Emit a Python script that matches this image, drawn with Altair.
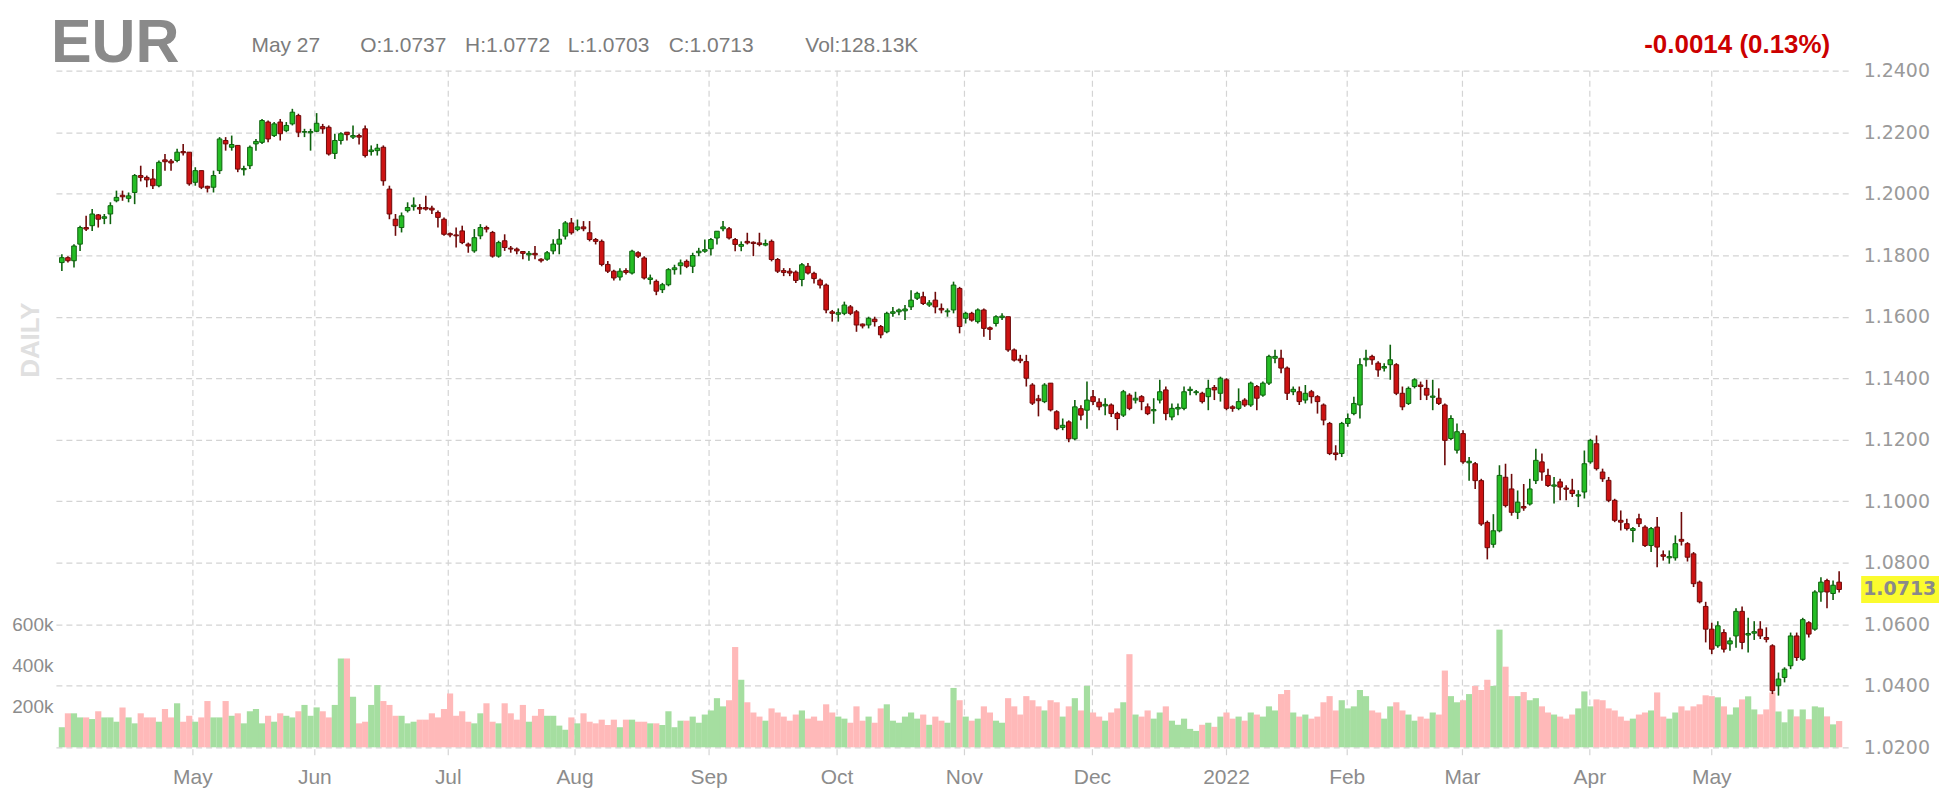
import altair as alt
import pandas as pd

# ---- data (daily EUR candles) ----
opens = [1.1776,1.1792,1.1782,1.1836,1.1890,1.1896,1.1931,1.1920,1.1934,1.1977,
1.1995,1.1985,1.2004,1.2059,1.2053,1.2048,1.2026,1.2110,1.2106,1.2108,
1.2137,1.2135,1.2037,1.2075,1.2024,1.2021,1.2075,1.2173,1.2151,1.2157,
1.2078,1.2091,1.2162,1.2167,1.2233,1.2189,1.2233,1.2205,1.2227,1.2254,
1.2200,1.2198,1.2203,1.2218,1.2216,1.2131,1.2173,1.2200,1.2184,1.2189,
1.2211,1.2137,1.2140,1.2151,1.2015,1.1917,1.1890,1.1945,1.1958,1.1955,
1.1955,1.1953,1.1939,1.1917,1.1870,1.1866,1.1879,1.1836,1.1814,1.1863,
1.1890,1.1874,1.1797,1.1847,1.1823,1.1820,1.1812,1.1801,1.1806,1.1787,
1.1787,1.1814,1.1836,1.1862,1.1905,1.1884,1.1892,1.1873,1.1851,1.1845,
1.1770,1.1748,1.1729,1.1750,1.1742,1.1808,1.1791,1.1721,1.1715,1.1688,
1.1704,1.1753,1.1766,1.1780,1.1764,1.1808,1.1813,1.1821,1.1856,1.1886,
1.1886,1.1851,1.1829,1.1845,1.1842,1.1840,1.1833,1.1845,1.1786,1.1750,
1.1748,1.1745,1.1721,1.1764,1.1741,1.1719,1.1703,1.1616,1.1608,1.1611,
1.1632,1.1616,1.1576,1.1573,1.1592,1.1568,1.1551,1.1611,1.1616,1.1619,
1.1632,1.1660,1.1665,1.1638,1.1654,1.1627,1.1616,1.1622,1.1692,1.1595,
1.1611,1.1584,1.1622,1.1564,1.1578,1.1597,1.1600,1.1492,1.1462,1.1454,
1.1378,1.1333,1.1324,1.1384,1.1291,1.1240,1.1258,1.1203,1.1301,1.1296,
1.1340,1.1322,1.1310,1.1313,1.1285,1.1280,1.1345,1.1329,1.1340,1.1307,
1.1294,1.1329,1.1362,1.1274,1.1300,1.1302,1.1360,1.1353,1.1351,1.1340,
1.1370,1.1351,1.1395,1.1307,1.1302,1.1329,1.1313,1.1373,1.1345,1.1384,
1.1465,1.1465,1.1433,1.1356,1.1356,1.1329,1.1356,1.1340,1.1313,1.1253,
1.1157,1.1155,1.1253,1.1285,1.1313,1.1460,1.1471,1.1449,1.1433,1.1444,
1.1444,1.1351,1.1318,1.1373,1.1378,1.1367,1.1338,1.1335,1.1313,1.1204,
1.1166,1.1220,1.1125,1.1122,1.1067,1.0931,1.0860,1.0904,1.1078,1.1040,
1.0964,1.0983,1.0991,1.1067,1.1128,1.1084,1.1049,1.1063,1.1043,1.1036,
1.1017,1.1030,1.1128,1.1187,1.1095,1.1068,1.1003,1.0938,1.0927,1.0905,
1.0943,1.0916,1.0856,1.0916,1.0826,1.0816,1.0816,1.0876,1.0862,1.0829,
1.0737,1.0658,1.0584,1.0530,1.0573,1.0536,1.0562,1.0642,1.0565,1.0571,
1.0584,1.0557,1.0530,1.0400,1.0427,1.0465,1.0562,1.0486,1.0605,1.0584,
1.0705,1.0742,1.0700,1.0737]
highs = [1.1803,1.1797,1.1836,1.1896,1.1928,1.1950,1.1934,1.1934,1.1972,1.2010,
1.2010,1.2004,1.2064,1.2091,1.2059,1.2080,1.2108,1.2129,1.2113,1.2146,
1.2162,1.2135,1.2086,1.2075,1.2026,1.2075,1.2184,1.2184,1.2189,1.2157,
1.2091,1.2157,1.2178,1.2243,1.2238,1.2233,1.2243,1.2233,1.2276,1.2260,
1.2211,1.2211,1.2262,1.2227,1.2222,1.2195,1.2200,1.2200,1.2222,1.2195,
1.2222,1.2157,1.2162,1.2157,1.2026,1.1934,1.1939,1.1972,1.1988,1.1966,
1.1993,1.1961,1.1945,1.1923,1.1874,1.1890,1.1896,1.1841,1.1885,1.1901,
1.1896,1.1879,1.1847,1.1868,1.1830,1.1825,1.1814,1.1814,1.1830,1.1790,
1.1814,1.1852,1.1885,1.1911,1.1921,1.1916,1.1911,1.1911,1.1856,1.1851,
1.1781,1.1753,1.1758,1.1758,1.1818,1.1813,1.1797,1.1737,1.1721,1.1710,
1.1758,1.1769,1.1786,1.1786,1.1808,1.1824,1.1851,1.1856,1.1878,1.1911,
1.1892,1.1856,1.1845,1.1873,1.1845,1.1873,1.1851,1.1851,1.1791,1.1758,
1.1758,1.1750,1.1775,1.1775,1.1746,1.1724,1.1708,1.1622,1.1627,1.1649,
1.1638,1.1622,1.1578,1.1600,1.1600,1.1573,1.1616,1.1632,1.1627,1.1638,
1.1686,1.1681,1.1681,1.1654,1.1681,1.1643,1.1627,1.1714,1.1697,1.1616,
1.1616,1.1627,1.1627,1.1568,1.1605,1.1611,1.1600,1.1497,1.1476,1.1476,
1.1384,1.1346,1.1384,1.1384,1.1296,1.1269,1.1263,1.1329,1.1312,1.1389,
1.1362,1.1335,1.1335,1.1318,1.1291,1.1362,1.1351,1.1356,1.1345,1.1318,
1.1335,1.1395,1.1373,1.1318,1.1318,1.1373,1.1373,1.1362,1.1356,1.1395,
1.1378,1.1405,1.1400,1.1312,1.1367,1.1335,1.1389,1.1378,1.1389,1.1476,
1.1493,1.1493,1.1438,1.1373,1.1373,1.1378,1.1362,1.1345,1.1318,1.1258,
1.1182,1.1258,1.1285,1.1340,1.1465,1.1493,1.1476,1.1455,1.1449,1.1509,
1.1449,1.1373,1.1373,1.1400,1.1389,1.1395,1.1395,1.1367,1.1318,1.1280,
1.1253,1.1231,1.1144,1.1128,1.1073,1.0937,1.0958,1.1117,1.1122,1.1089,
1.1035,1.1056,1.1073,1.1171,1.1155,1.1106,1.1079,1.1073,1.1052,1.1073,
1.1036,1.1165,1.1203,1.1214,1.1106,1.1079,1.1008,1.0970,1.0943,1.0916,
1.0959,1.0922,1.0916,1.0949,1.0840,1.0840,1.0889,1.0965,1.0867,1.0835,
1.0742,1.0673,1.0605,1.0610,1.0584,1.0557,1.0652,1.0658,1.0621,1.0610,
1.0610,1.0590,1.0535,1.0443,1.0460,1.0573,1.0573,1.0621,1.0610,1.0711,
1.0753,1.0748,1.0742,1.0772]
lows = [1.1749,1.1776,1.1760,1.1814,1.1879,1.1879,1.1890,1.1901,1.1901,1.1972,
1.1977,1.1972,1.1966,1.2040,1.2021,1.2015,1.2021,1.2075,1.2075,1.2102,
1.2124,1.2026,1.2026,1.2015,1.2004,1.2004,1.2064,1.2140,1.2140,1.2070,
1.2059,1.2080,1.2140,1.2162,1.2167,1.2184,1.2173,1.2200,1.2222,1.2184,
1.2184,1.2140,1.2200,1.2195,1.2124,1.2113,1.2160,1.2173,1.2178,1.2160,
1.2118,1.2124,1.2124,1.2026,1.1917,1.1863,1.1874,1.1939,1.1945,1.1934,
1.1945,1.1934,1.1890,1.1863,1.1858,1.1825,1.1836,1.1808,1.1808,1.1852,
1.1874,1.1792,1.1792,1.1814,1.1808,1.1803,1.1787,1.1782,1.1787,1.1776,
1.1782,1.1803,1.1803,1.1851,1.1867,1.1878,1.1878,1.1845,1.1835,1.1764,
1.1742,1.1718,1.1718,1.1737,1.1737,1.1791,1.1721,1.1705,1.1670,1.1677,
1.1699,1.1737,1.1737,1.1758,1.1742,1.1797,1.1808,1.1799,1.1835,1.1878,
1.1851,1.1813,1.1813,1.1835,1.1797,1.1829,1.1829,1.1780,1.1742,1.1732,
1.1732,1.1710,1.1699,1.1737,1.1708,1.1692,1.1611,1.1584,1.1584,1.1605,
1.1605,1.1551,1.1562,1.1562,1.1568,1.1530,1.1546,1.1600,1.1605,1.1589,
1.1622,1.1654,1.1638,1.1632,1.1611,1.1611,1.1600,1.1611,1.1546,1.1578,
1.1584,1.1578,1.1535,1.1524,1.1568,1.1589,1.1486,1.1454,1.1449,1.1373,
1.1313,1.1276,1.1319,1.1292,1.1231,1.1231,1.1192,1.1198,1.1263,1.1236,
1.1313,1.1296,1.1280,1.1274,1.1231,1.1274,1.1296,1.1318,1.1296,1.1280,
1.1252,1.1318,1.1263,1.1263,1.1280,1.1296,1.1345,1.1345,1.1318,1.1296,
1.1329,1.1324,1.1296,1.1291,1.1296,1.1307,1.1307,1.1296,1.1340,1.1378,
1.1449,1.1416,1.1329,1.1345,1.1313,1.1318,1.1318,1.1285,1.1247,1.1150,
1.1133,1.1144,1.1242,1.1280,1.1269,1.1438,1.1444,1.1405,1.1422,1.1395,
1.1345,1.1296,1.1313,1.1367,1.1329,1.1329,1.1296,1.1313,1.1117,1.1198,
1.1155,1.1122,1.1067,1.1040,1.0920,1.0811,1.0849,1.0899,1.0980,1.0953,
1.0942,1.0969,1.0986,1.1056,1.1067,1.1046,1.0993,1.1003,1.1003,1.1014,
1.0981,1.1009,1.1122,1.1100,1.1063,1.0997,1.0932,1.0905,1.0905,1.0867,
1.0916,1.0851,1.0835,1.0785,1.0807,1.0797,1.0807,1.0856,1.0804,1.0721,
1.0668,1.0541,1.0503,1.0524,1.0508,1.0514,1.0524,1.0519,1.0508,1.0549,
1.0552,1.0541,1.0373,1.0368,1.0411,1.0454,1.0481,1.0481,1.0557,1.0579,
1.0673,1.0652,1.0679,1.0703]
closes = [1.1792,1.1782,1.1830,1.1890,1.1885,1.1934,1.1917,1.1925,1.1961,1.1988,
1.1990,1.1993,1.2059,1.2053,1.2045,1.2026,1.2102,1.2104,1.2100,1.2135,
1.2133,1.2032,1.2075,1.2021,1.2018,1.2059,1.2178,1.2162,1.2160,1.2080,
1.2082,1.2151,1.2170,1.2238,1.2178,1.2227,1.2195,1.2222,1.2265,1.2200,
1.2202,1.2202,1.2229,1.2211,1.2129,1.2173,1.2195,1.2192,1.2189,1.2184,
1.2124,1.2142,1.2148,1.2042,1.1934,1.1896,1.1928,1.1955,1.1963,1.1950,
1.1950,1.1947,1.1923,1.1868,1.1866,1.1863,1.1841,1.1830,1.1857,1.1890,
1.1885,1.1797,1.1841,1.1825,1.1820,1.1814,1.1806,1.1806,1.1801,1.1782,
1.1808,1.1836,1.1852,1.1905,1.1873,1.1892,1.1886,1.1851,1.1845,1.1770,
1.1748,1.1726,1.1748,1.1744,1.1813,1.1797,1.1726,1.1726,1.1683,1.1704,
1.1753,1.1759,1.1775,1.1764,1.1799,1.1813,1.1818,1.1851,1.1878,1.1892,
1.1856,1.1835,1.1835,1.1840,1.1838,1.1835,1.1838,1.1786,1.1748,1.1744,
1.1742,1.1718,1.1769,1.1742,1.1724,1.1703,1.1622,1.1611,1.1613,1.1638,
1.1611,1.1573,1.1570,1.1595,1.1584,1.1541,1.1611,1.1616,1.1622,1.1625,
1.1654,1.1676,1.1643,1.1645,1.1632,1.1622,1.1619,1.1703,1.1568,1.1611,
1.1589,1.1622,1.1562,1.1559,1.1600,1.1602,1.1492,1.1459,1.1457,1.1400,
1.1319,1.1327,1.1378,1.1297,1.1236,1.1247,1.1203,1.1307,1.1280,1.1329,
1.1324,1.1307,1.1315,1.1285,1.1269,1.1356,1.1302,1.1335,1.1324,1.1285,
1.1298,1.1356,1.1285,1.1302,1.1305,1.1356,1.1364,1.1356,1.1324,1.1367,
1.1362,1.1400,1.1302,1.1302,1.1324,1.1313,1.1384,1.1335,1.1384,1.1471,
1.1471,1.1433,1.1351,1.1364,1.1324,1.1351,1.1340,1.1324,1.1264,1.1155,
1.1152,1.1253,1.1269,1.1318,1.1444,1.1465,1.1460,1.1427,1.1438,1.1460,
1.1351,1.1307,1.1367,1.1395,1.1373,1.1345,1.1342,1.1318,1.1198,1.1269,
1.1226,1.1128,1.1130,1.1067,1.0926,1.0849,1.0904,1.1084,1.0986,1.0964,
1.0997,1.0978,1.1040,1.1133,1.1095,1.1051,1.1053,1.1046,1.1039,1.1025,
1.1021,1.1122,1.1198,1.1106,1.1073,1.1003,1.0938,1.0932,1.0911,1.0911,
1.0927,1.0856,1.0911,1.0851,1.0821,1.0820,1.0862,1.0870,1.0818,1.0732,
1.0673,1.0584,1.0519,1.0595,1.0519,1.0546,1.0642,1.0541,1.0570,1.0576,
1.0562,1.0551,1.0384,1.0422,1.0454,1.0562,1.0492,1.0615,1.0568,1.0705,
1.0737,1.0705,1.0727,1.0713]

# daily volume, one per candle
volumes = [98000,166000,166000,146000,146000,138000,176000,146000,146000,125000,
195000,146000,117000,166000,146000,146000,125000,187000,146000,215000,
125000,154000,125000,146000,226000,146000,146000,226000,154000,166000,
117000,176000,187000,117000,154000,125000,166000,154000,146000,176000,
207000,154000,195000,176000,146000,207000,434000,434000,247000,117000,
125000,207000,304000,226000,207000,154000,154000,117000,125000,135000,
135000,166000,146000,187000,263000,154000,176000,125000,117000,166000,
215000,125000,117000,215000,166000,135000,207000,125000,154000,187000,
154000,154000,106000,86000,146000,117000,166000,125000,117000,135000,
109000,135000,98000,135000,135000,125000,125000,117000,117000,109000,
176000,98000,130000,130000,150000,120000,160000,180000,240000,200000,
230000,490000,330000,220000,170000,150000,130000,190000,170000,150000,
130000,160000,180000,140000,150000,130000,210000,170000,150000,140000,
120000,200000,130000,150000,120000,190000,210000,130000,120000,150000,
170000,140000,160000,110000,150000,130000,120000,290000,230000,150000,
130000,140000,200000,170000,130000,120000,240000,200000,160000,250000,
230000,200000,180000,230000,220000,150000,200000,240000,180000,300000,
170000,150000,130000,170000,190000,220000,455000,160000,150000,180000,
140000,170000,200000,130000,110000,140000,90000,80000,110000,120000,
100000,150000,170000,140000,150000,130000,170000,160000,150000,200000,
180000,260000,280000,170000,150000,160000,140000,150000,220000,250000,
180000,230000,190000,200000,280000,250000,180000,170000,140000,200000,
220000,180000,160000,130000,150000,140000,170000,160000,375000,250000,
220000,230000,260000,300000,280000,330000,300000,575000,394000,250000,
250000,270000,230000,240000,200000,170000,160000,150000,140000,160000,
190000,273000,200000,234000,230000,190000,180000,150000,130000,140000,
160000,170000,180000,268000,150000,140000,170000,200000,180000,200000,
210000,254000,250000,244000,200000,160000,195000,234000,249000,185000,
161000,185000,268000,175000,122000,185000,151000,185000,137000,200000,
195000,151000,112000,128130]

price_ticks = [1.02, 1.04, 1.06, 1.08, 1.10, 1.12, 1.14, 1.16, 1.18, 1.20, 1.22, 1.24]
volume_ticks = [200000, 400000, 600000]
month_labels = ["May", "Jun", "Jul", "Aug", "Sep", "Oct", "Nov", "Dec", "2022", "Feb", "Mar", "Apr", "May"]
month_pos = [21.6, 41.7, 63.7, 84.6, 106.7, 127.8, 148.8, 169.9, 192.0, 211.9, 230.9, 251.9, 272.0]

symbol = "EUR"
last_date = "May 27"

# ---- build tables ----
n = len(closes)
dirs = ["up" if c >= o else "down" for o, c in zip(opens, closes)]
df = pd.DataFrame({"i": list(range(n)), "open": opens, "high": highs, "low": lows,
                   "close": closes, "dir": dirs})
nv = min(len(volumes), n)
vdf = pd.DataFrame({"i": list(range(nv)), "vol": volumes[:nv], "dir": dirs[:nv]})
mdf = pd.DataFrame({"pos": month_pos, "label": month_labels})

chg = closes[-1] - closes[-2]
pct = abs(chg) / closes[-2] * 100
change_text = f"{chg:.4f} ({pct:.2f}%)"
vol_text = f"Vol:{volumes[-1] / 1000:.2f}K"
last_df = pd.DataFrame({"close": [closes[-1]], "label": [f"{closes[-1]:.4f}"]})
one = pd.DataFrame({"k": [0]})

W, H = 1796, 678
xscale = alt.Scale(domain=[-0.16, n - 1 + 0.67], nice=False, zero=False)
yscale = alt.Scale(domain=[1.02, 1.24], nice=False, zero=False)
vscale = alt.Scale(domain=[0, 3307000], nice=False, zero=True)

GRID = "#d4d4d4"
LABEL = "#8c8c8c"
SANS = "Liberation Sans"
EDGE = ["#0e620e", "#6e0909"]

vgrid = alt.Chart(mdf).mark_rule(strokeDash=[6, 4], color=GRID, strokeWidth=1.2).encode(
    x=alt.X("pos:Q", scale=xscale, axis=None),
    y=alt.value(0), y2=alt.value(H + 8))

mtext = alt.Chart(mdf).mark_text(fontSize=21, font=SANS, color=LABEL, baseline="middle").encode(
    x=alt.X("pos:Q", scale=xscale, axis=None),
    y=alt.value(H + 31), text="label:N")

vol = alt.Chart(vdf).mark_bar(size=6.2).encode(
    x=alt.X("i:Q", scale=xscale, axis=None),
    y=alt.Y("vol:Q", scale=vscale, axis=alt.Axis(
        orient="left", values=volume_ticks, labelExpr="datum.value / 1000 + 'k'", title=None,
        labelFont=SANS, labelFontSize=19, labelColor=LABEL, labelPadding=3,
        domain=False, ticks=False, grid=False)),
    color=alt.Color("dir:N", scale=alt.Scale(domain=["up", "down"], range=["#a5dea0", "#ffb9b9"]), legend=None))

wick = alt.Chart(df).mark_rule(strokeWidth=1.6).encode(
    x=alt.X("i:Q", scale=xscale, axis=None),
    y=alt.Y("low:Q", scale=yscale, axis=alt.Axis(
        orient="right", values=price_ticks, format=".4f", title=None,
        labelFont="DejaVu Sans", labelFontSize=19, labelColor="#9a9a9a", labelPadding=15,
        domain=False, ticks=False, grid=True, gridDash=[6, 4], gridColor=GRID, gridWidth=1.2)),
    y2="high:Q",
    stroke=alt.Stroke("dir:N", scale=alt.Scale(domain=["up", "down"], range=EDGE), legend=None))

body = alt.Chart(df).mark_bar(size=4.6, strokeWidth=0).encode(
    x=alt.X("i:Q", scale=xscale, axis=None),
    y=alt.Y("open:Q", scale=yscale, axis=None),
    y2="close:Q",
    fill=alt.Fill("dir:N", scale=alt.Scale(domain=["up", "down"], range=["#25bd25", "#cc1212"]), legend=None))

body_edge = alt.Chart(df).mark_bar(size=4.6, strokeWidth=1, fillOpacity=0).encode(
    x=alt.X("i:Q", scale=xscale, axis=None),
    y=alt.Y("open:Q", scale=yscale, axis=None),
    y2="close:Q",
    stroke=alt.Stroke("dir:N", scale=alt.Scale(domain=["up", "down"], range=EDGE), legend=None))

hl_box = alt.Chart(last_df).mark_rule(color="#fbfb2e", strokeWidth=27).encode(
    x=alt.value(W + 13), x2=alt.value(W + 91), y=alt.Y("close:Q", scale=yscale, axis=None))
hl_text = alt.Chart(last_df).mark_text(align="left", baseline="middle", font="DejaVu Sans",
                                       fontSize=19, fontWeight="bold", color="#8a8a8a").encode(
    x=alt.value(W + 15), y=alt.Y("close:Q", scale=yscale, axis=None), text="label:N")

def hdr(text, x, y, size, color, weight="normal", align="left", font=SANS):
    return alt.Chart(one).mark_text(text=text, align=align, baseline="alphabetic", font=font,
                                    fontSize=size, fontWeight=weight, color=color).encode(
        x=alt.value(x), y=alt.value(y))

header = [
    hdr(symbol, -5, -9, 61, "#8a8a8a", "bold"),
    hdr(last_date, 196, -19, 21, "#7c7c7c"),
    hdr(f"O:{opens[-1]:.4f}", 305, -19, 21, "#7c7c7c"),
    hdr(f"H:{highs[-1]:.4f}", 410, -19, 21, "#7c7c7c"),
    hdr(f"L:{lows[-1]:.4f}", 513, -19, 21, "#7c7c7c"),
    hdr(f"C:{closes[-1]:.4f}", 614, -19, 21, "#7c7c7c"),
    hdr(vol_text, 751, -19, 21, "#7c7c7c"),
    hdr(change_text, 1778, -18, 26, "#cc0000", "bold", "right"),
]
daily = alt.Chart(one).mark_text(text="DAILY", align="center", baseline="middle", font=SANS,
                                 fontSize=26, fontWeight="bold", color="#e0e0e0", angle=270).encode(
    x=alt.value(-25), y=alt.value(270))

chart = alt.layer(vgrid, mtext, vol, wick, body, body_edge, hl_box, hl_text, daily, *header).resolve_scale(
    y="independent", color="independent", stroke="independent", fill="independent"
).properties(
    width=W, height=H,
    padding={"left": 48, "top": 62, "right": 91, "bottom": 44},
    autosize=alt.AutoSizeParams(type="none"),
).configure(background="white").configure_view(stroke=None)

chart.save("out.html", embed_options={"renderer": "svg", "actions": False})
